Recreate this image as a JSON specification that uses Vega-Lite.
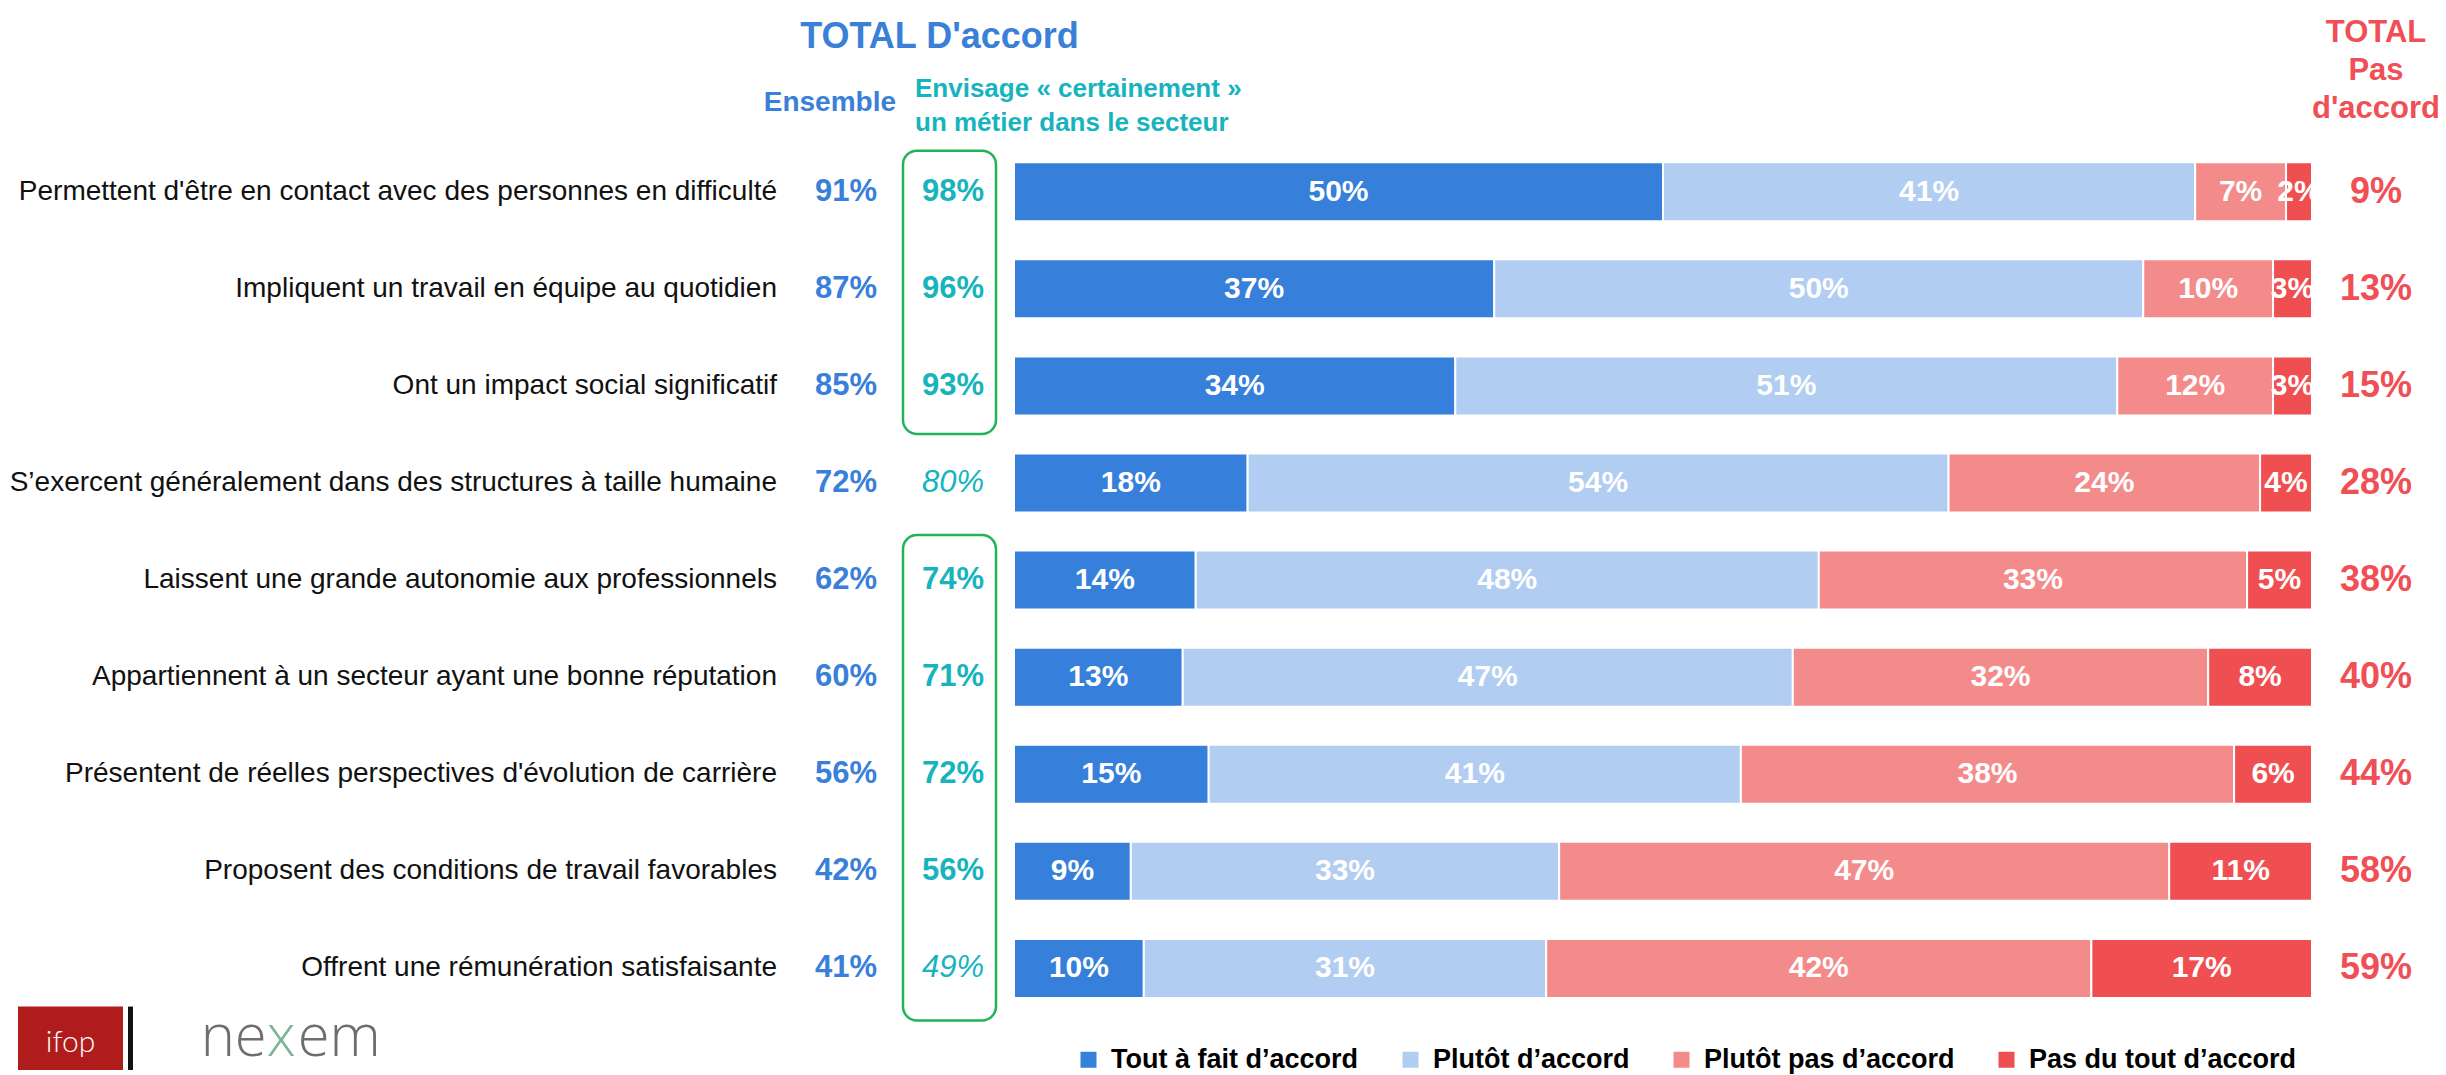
{
  "$schema": "https://vega.github.io/schema/vega-lite/v6.json",
  "width": 2446,
  "height": 1075,
  "autosize": {"type": "fit", "contains": "padding"},
  "padding": 0,
  "background": "white",
  "config": {
    "view": {"stroke": null},
    "font": "Liberation Sans",
    "text": {"font": "Liberation Sans"}
  },
  "datasets": {
    "bars": [
      {"idx": 1, "k": 1, "cat": "Tout à fait d’accord", "value": 0.50},
      {"idx": 1, "k": 2, "cat": "Plutôt d’accord", "value": 0.41},
      {"idx": 1, "k": 3, "cat": "Plutôt pas d’accord", "value": 0.07},
      {"idx": 1, "k": 4, "cat": "Pas du tout d’accord", "value": 0.02},
      {"idx": 2, "k": 1, "cat": "Tout à fait d’accord", "value": 0.37},
      {"idx": 2, "k": 2, "cat": "Plutôt d’accord", "value": 0.50},
      {"idx": 2, "k": 3, "cat": "Plutôt pas d’accord", "value": 0.10},
      {"idx": 2, "k": 4, "cat": "Pas du tout d’accord", "value": 0.03},
      {"idx": 3, "k": 1, "cat": "Tout à fait d’accord", "value": 0.34},
      {"idx": 3, "k": 2, "cat": "Plutôt d’accord", "value": 0.51},
      {"idx": 3, "k": 3, "cat": "Plutôt pas d’accord", "value": 0.12},
      {"idx": 3, "k": 4, "cat": "Pas du tout d’accord", "value": 0.03},
      {"idx": 4, "k": 1, "cat": "Tout à fait d’accord", "value": 0.18},
      {"idx": 4, "k": 2, "cat": "Plutôt d’accord", "value": 0.54},
      {"idx": 4, "k": 3, "cat": "Plutôt pas d’accord", "value": 0.24},
      {"idx": 4, "k": 4, "cat": "Pas du tout d’accord", "value": 0.04},
      {"idx": 5, "k": 1, "cat": "Tout à fait d’accord", "value": 0.14},
      {"idx": 5, "k": 2, "cat": "Plutôt d’accord", "value": 0.48},
      {"idx": 5, "k": 3, "cat": "Plutôt pas d’accord", "value": 0.33},
      {"idx": 5, "k": 4, "cat": "Pas du tout d’accord", "value": 0.05},
      {"idx": 6, "k": 1, "cat": "Tout à fait d’accord", "value": 0.13},
      {"idx": 6, "k": 2, "cat": "Plutôt d’accord", "value": 0.47},
      {"idx": 6, "k": 3, "cat": "Plutôt pas d’accord", "value": 0.32},
      {"idx": 6, "k": 4, "cat": "Pas du tout d’accord", "value": 0.08},
      {"idx": 7, "k": 1, "cat": "Tout à fait d’accord", "value": 0.15},
      {"idx": 7, "k": 2, "cat": "Plutôt d’accord", "value": 0.41},
      {"idx": 7, "k": 3, "cat": "Plutôt pas d’accord", "value": 0.38},
      {"idx": 7, "k": 4, "cat": "Pas du tout d’accord", "value": 0.06},
      {"idx": 8, "k": 1, "cat": "Tout à fait d’accord", "value": 0.09},
      {"idx": 8, "k": 2, "cat": "Plutôt d’accord", "value": 0.33},
      {"idx": 8, "k": 3, "cat": "Plutôt pas d’accord", "value": 0.47},
      {"idx": 8, "k": 4, "cat": "Pas du tout d’accord", "value": 0.11},
      {"idx": 9, "k": 1, "cat": "Tout à fait d’accord", "value": 0.10},
      {"idx": 9, "k": 2, "cat": "Plutôt d’accord", "value": 0.31},
      {"idx": 9, "k": 3, "cat": "Plutôt pas d’accord", "value": 0.42},
      {"idx": 9, "k": 4, "cat": "Pas du tout d’accord", "value": 0.17}
    ],
    "rows": [
      {"idx": 1, "item": "Permettent d'être en contact avec des personnes en difficulté", "ens": 0.91, "env": 0.98, "sig": true, "pas": 0.09},
      {"idx": 2, "item": "Impliquent un travail en équipe au quotidien", "ens": 0.87, "env": 0.96, "sig": true, "pas": 0.13},
      {"idx": 3, "item": "Ont un impact social significatif", "ens": 0.85, "env": 0.93, "sig": true, "pas": 0.15},
      {"idx": 4, "item": "S’exercent généralement dans des structures à taille humaine", "ens": 0.72, "env": 0.80, "sig": false, "pas": 0.28},
      {"idx": 5, "item": "Laissent une grande autonomie aux professionnels", "ens": 0.62, "env": 0.74, "sig": true, "pas": 0.38},
      {"idx": 6, "item": "Appartiennent à un secteur ayant une bonne réputation", "ens": 0.60, "env": 0.71, "sig": true, "pas": 0.40},
      {"idx": 7, "item": "Présentent de réelles perspectives d'évolution de carrière", "ens": 0.56, "env": 0.72, "sig": true, "pas": 0.44},
      {"idx": 8, "item": "Proposent des conditions de travail favorables", "ens": 0.42, "env": 0.56, "sig": true, "pas": 0.58},
      {"idx": 9, "item": "Offrent une rémunération satisfaisante", "ens": 0.41, "env": 0.49, "sig": false, "pas": 0.59}
    ]
  },
  "layer": [
    {
      "data": {"name": "bars"},
      "transform": [
        {"stack": "value", "groupby": ["idx"], "sort": [{"field": "k", "order": "ascending"}], "as": ["x0", "x1"]}
      ],
      "mark": {"type": "bar", "orient": "horizontal", "size": 59, "stroke": "white", "strokeWidth": 2},
      "encoding": {
        "x": {"field": "x0", "type": "quantitative", "axis": null, "scale": {"domain": [-0.7812, 1.10324], "nice": false, "zero": false}},
        "x2": {"field": "x1"},
        "y": {"field": "idx", "type": "quantitative", "axis": null, "scale": {"domain": [-0.9235, 10.046], "nice": false, "zero": false, "reverse": true}},
        "color": {
          "field": "cat", "type": "nominal",
          "scale": {
            "domain": ["Tout à fait d’accord", "Plutôt d’accord", "Plutôt pas d’accord", "Pas du tout d’accord"],
            "range": ["#367FDA", "#B1CDF1", "#F48B8B", "#F04F52"]
          },
          "legend": {
            "orient": "none", "legendX": 1075, "legendY": 1046, "direction": "horizontal",
            "title": null, "symbolType": "square", "symbolSize": 256, "symbolStrokeWidth": 0,
            "labelFont": "Liberation Sans", "labelFontSize": 27, "labelFontWeight": "bold",
            "labelOffset": 9, "columnPadding": 38, "labelLimit": 0,
            "encode": {"labels": {"update": {"fill": {"scale": "color", "field": "value"}}}}
          }
        }
      }
    },
    {
      "data": {"name": "bars"},
      "transform": [
        {"stack": "value", "groupby": ["idx"], "sort": [{"field": "k", "order": "ascending"}], "as": ["x0", "x1"]},
        {"fold": ["x0", "x1"], "as": ["edge", "pos"]},
        {"aggregate": [{"op": "mean", "field": "pos", "as": "mid"}], "groupby": ["idx", "k", "value"]}
      ],
      "mark": {"type": "text", "fontSize": 30, "fontWeight": "bold", "color": "white", "baseline": "middle", "align": "center"},
      "encoding": {
        "x": {"field": "mid", "type": "quantitative"},
        "y": {"field": "idx", "type": "quantitative"},
        "text": {"field": "value", "type": "quantitative", "format": ".0%"}
      }
    },
    {
      "data": {"name": "rows"},
      "mark": {"type": "text", "fontSize": 28, "color": "#111111", "baseline": "middle", "align": "right"},
      "encoding": {
        "x": {"datum": -0.18259},
        "y": {"field": "idx", "type": "quantitative"},
        "text": {"field": "item"}
      }
    },
    {
      "data": {"name": "rows"},
      "mark": {"type": "text", "fontSize": 31, "fontWeight": "bold", "color": "#3A7FD8", "baseline": "middle", "align": "center"},
      "encoding": {
        "x": {"datum": -0.12943},
        "y": {"field": "idx", "type": "quantitative"},
        "text": {"field": "ens", "type": "quantitative", "format": ".0%"}
      }
    },
    {
      "data": {"name": "rows"},
      "transform": [{"filter": "datum.sig"}],
      "mark": {"type": "text", "fontSize": 31, "fontWeight": "bold", "color": "#17B4BD", "baseline": "middle", "align": "center"},
      "encoding": {
        "x": {"datum": -0.047},
        "y": {"field": "idx", "type": "quantitative"},
        "text": {"field": "env", "type": "quantitative", "format": ".0%"}
      }
    },
    {
      "data": {"name": "rows"},
      "transform": [{"filter": "!datum.sig"}],
      "mark": {"type": "text", "fontSize": 31, "fontStyle": "italic", "color": "#17B4BD", "baseline": "middle", "align": "center"},
      "encoding": {
        "x": {"datum": -0.047},
        "y": {"field": "idx", "type": "quantitative"},
        "text": {"field": "env", "type": "quantitative", "format": ".0%"}
      }
    },
    {
      "data": {"name": "rows"},
      "mark": {"type": "text", "fontSize": 36, "fontWeight": "bold", "color": "#F04F55", "baseline": "middle", "align": "center"},
      "encoding": {
        "x": {"datum": 1.04931},
        "y": {"field": "idx", "type": "quantitative"},
        "text": {"field": "pas", "type": "quantitative", "format": ".0%"}
      }
    },
    {
      "data": {"values": [{}]},
      "mark": {"type": "text", "fontSize": 36, "fontWeight": "bold", "color": "#3A7FD8", "baseline": "alphabetic", "align": "center"},
      "encoding": {
        "x": {"datum": -0.0574},
        "y": {"datum": -0.4847},
        "text": {"value": "TOTAL D'accord"}
      }
    },
    {
      "data": {"values": [{}]},
      "mark": {"type": "text", "fontSize": 28, "fontWeight": "bold", "color": "#3A7FD8", "baseline": "alphabetic", "align": "right"},
      "encoding": {
        "x": {"datum": -0.09091},
        "y": {"datum": 0.1684},
        "text": {"value": "Ensemble"}
      }
    },
    {
      "data": {"values": [{}]},
      "mark": {"type": "text", "fontSize": 26, "fontWeight": "bold", "color": "#17B4BD", "baseline": "alphabetic", "align": "left", "lineHeight": 34},
      "encoding": {
        "x": {"datum": -0.07627},
        "y": {"datum": 0.0255},
        "text": {"value": ["Envisage « certainement »", "un métier dans le secteur"]}
      }
    },
    {
      "data": {"values": [{}]},
      "mark": {"type": "text", "fontSize": 31, "fontWeight": "bold", "color": "#F04F55", "baseline": "alphabetic", "align": "center", "lineHeight": 38},
      "encoding": {
        "x": {"datum": 1.04931},
        "y": {"datum": -0.5459},
        "text": {"value": ["TOTAL", "Pas", "d'accord"]}
      }
    },
    {
      "data": {"values": [{}]},
      "mark": {"type": "rect", "fill": null, "fillOpacity": 0, "stroke": "#22B35A", "strokeWidth": 2.5, "cornerRadius": 14},
      "encoding": {
        "x": {"datum": -0.08552},
        "x2": {"datum": -0.01387},
        "y": {"datum": 0.5765},
        "y2": {"datum": 3.495}
      }
    },
    {
      "data": {"values": [{}]},
      "mark": {"type": "rect", "fill": null, "fillOpacity": 0, "stroke": "#22B35A", "strokeWidth": 2.5, "cornerRadius": 14},
      "encoding": {
        "x": {"datum": -0.08552},
        "x2": {"datum": -0.01387},
        "y": {"datum": 4.536},
        "y2": {"datum": 9.536}
      }
    },
    {
      "data": {"values": [{}]},
      "mark": {"type": "rect", "fill": "#B01B1B"},
      "encoding": {
        "x": {"datum": -0.76733},
        "x2": {"datum": -0.68644},
        "y": {"datum": 9.3929},
        "y2": {"datum": 10.046}
      }
    },
    {
      "data": {"values": [{}]},
      "mark": {"type": "rect", "fill": "#111111"},
      "encoding": {
        "x": {"datum": -0.68259},
        "x2": {"datum": -0.67874},
        "y": {"datum": 9.3929},
        "y2": {"datum": 10.046}
      }
    },
    {
      "data": {"values": [{}]},
      "mark": {"type": "text", "fontSize": 30, "fontWeight": 300, "font": "Lato", "color": "white", "baseline": "alphabetic", "align": "center", "letterSpacing": 5},
      "encoding": {
        "x": {"datum": -0.72689},
        "y": {"datum": 9.86},
        "text": {"value": "ifop"}
      }
    },
    {
      "data": {"values": [{}]},
      "mark": {"type": "text", "fontSize": 58, "font": "Open Sans", "fontWeight": 300, "color": "#6E6E6E", "baseline": "alphabetic", "align": "right"},
      "encoding": {
        "x": {"datum": -0.5757},
        "y": {"datum": 9.90},
        "text": {"value": "ne"}
      }
    },
    {
      "data": {"values": [{}]},
      "mark": {"type": "text", "fontSize": 58, "font": "Open Sans", "fontWeight": 300, "color": "#7DB49A", "baseline": "alphabetic", "align": "left"},
      "encoding": {
        "x": {"datum": -0.5757},
        "y": {"datum": 9.90},
        "text": {"value": "x"}
      }
    },
    {
      "data": {"values": [{}]},
      "mark": {"type": "text", "fontSize": 58, "font": "Open Sans", "fontWeight": 300, "color": "#6E6E6E", "baseline": "alphabetic", "align": "left"},
      "encoding": {
        "x": {"datum": -0.5519},
        "y": {"datum": 9.90},
        "text": {"value": "em"}
      }
    }
  ]
}
